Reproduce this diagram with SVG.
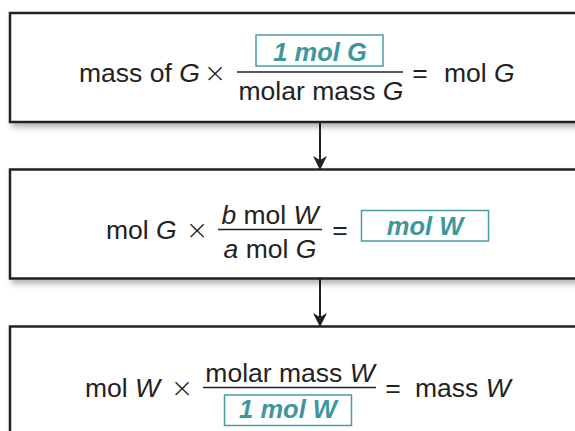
<svg xmlns="http://www.w3.org/2000/svg" width="575" height="431" viewBox="0 0 575 431">
<defs>
<filter id="sh" x="-10%" y="-20%" width="130%" height="150%">
<feDropShadow dx="3" dy="4" stdDeviation="3" flood-color="#000" flood-opacity="0.3"/>
</filter>
<marker id="ah" markerWidth="14" markerHeight="18" refX="13" refY="7" orient="auto" markerUnits="userSpaceOnUse" viewBox="0 0 14 14">
<path d="M0,0 L14,7 L0,14 L4,7 Z" fill="#222"/>
</marker>
<style>
.box{fill:#fff;stroke:#222;stroke-width:2.5}
.t{font-family:"Liberation Sans",Arial,sans-serif;font-size:26.5px;fill:#222}
.i{font-style:italic}
.x{font-family:"DejaVu Sans",sans-serif;font-size:27px;font-weight:200;fill:#222}
.tl{font-family:"Liberation Sans",Arial,sans-serif;font-size:25.5px;font-weight:bold;font-style:italic;fill:#3f979e}
.tb{fill:#fff;stroke:#4a9ca3;stroke-width:1.5}
.fl{stroke:#222;stroke-width:1.3}
.c{stroke:#222;stroke-width:2;fill:none}
</style>
</defs>
<g id="connectors">
<line class="c" x1="320" y1="122" x2="320" y2="169" marker-end="url(#ah)"/>
<line class="c" x1="320" y1="279" x2="320" y2="326" marker-end="url(#ah)"/>
</g>
<g id="node1">
<rect class="box" x="10" y="13" width="600" height="109" filter="url(#sh)"/>
<text class="t" x="79" y="82">mass of <tspan class="i">G</tspan></text>
<text class="x" x="215" y="82" text-anchor="middle">×</text>
<line class="fl" x1="237" y1="72" x2="403" y2="72"/>
<rect class="tb" x="256" y="35" width="127" height="31"/>
<text class="tl" x="320" y="61" text-anchor="middle">1 mol G</text>
<text class="t" x="321" y="100" text-anchor="middle">molar mass <tspan class="i">G</tspan></text>
<text class="t" x="420" y="82" text-anchor="middle">=</text>
<text class="t" x="444" y="82">mol <tspan class="i">G</tspan></text>
</g>
<g id="node2">
<rect class="box" x="10" y="169.5" width="600" height="109" filter="url(#sh)"/>
<text class="t" x="106" y="239">mol <tspan class="i">G</tspan></text>
<text class="x" x="197" y="239" text-anchor="middle">×</text>
<text class="t" x="270" y="224" text-anchor="middle"><tspan class="i">b</tspan> mol <tspan class="i">W</tspan></text>
<line class="fl" x1="218" y1="229.5" x2="322" y2="229.5"/>
<text class="t" x="270" y="258" text-anchor="middle"><tspan class="i">a</tspan> mol <tspan class="i">G</tspan></text>
<text class="t" x="340" y="239" text-anchor="middle">=</text>
<rect class="tb" x="361.5" y="210.5" width="127" height="30.5"/>
<text class="tl" x="425" y="235" text-anchor="middle">mol W</text>
</g>
<g id="node3">
<rect class="box" x="10" y="326.5" width="600" height="130" filter="url(#sh)"/>
<text class="t" x="85" y="397">mol <tspan class="i">W</tspan></text>
<text class="x" x="182" y="397" text-anchor="middle">×</text>
<text class="t" x="290" y="382" text-anchor="middle">molar mass <tspan class="i">W</tspan></text>
<line class="fl" x1="203" y1="387.5" x2="376" y2="387.5"/>
<rect class="tb" x="224.5" y="395" width="127" height="30.5"/>
<text class="tl" x="288" y="418" text-anchor="middle">1 mol W</text>
<text class="t" x="393" y="397" text-anchor="middle">=</text>
<text class="t" x="415" y="397">mass <tspan class="i">W</tspan></text>
</g>
</svg>
